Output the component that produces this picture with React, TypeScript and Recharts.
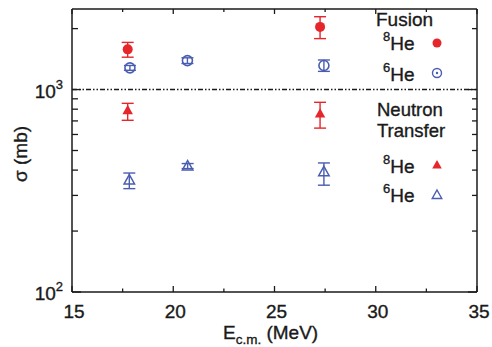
import React from 'react';
import {
  ScatterChart,
  Scatter,
  XAxis,
  YAxis,
  ErrorBar,
  ReferenceLine,
  Customized,
} from 'recharts';

// Cross sections (mb) versus centre-of-mass energy (MeV)
const fusion8HeEnergy = [17.75, 27.25];
const fusion8HeSigma = [1580, 2040];
const fusion8HeErr: [number, number][] = [[135, 130], [255, 250]];

const fusion6HeEnergy = [17.86, 20.7, 27.44];
const fusion6HeSigma = [1280, 1390, 1315];
const fusion6HeErr: [number, number][] = [[35, 35], [45, 45], [85, 85]];

const transfer8HeEnergy = [17.75, 27.25];
const transfer8HeSigma = [790, 760];
const transfer8HeErr: [number, number][] = [[85, 65], [115, 105]];

const transfer6HeEnergy = [17.83, 20.71, 27.44];
const transfer6HeSigma = [357, 419, 392];
const transfer6HeErr: [number, number][] = [[33, 30], [12, 12], [55, 42]];

const xTicks = [15, 17.5, 20, 22.5, 25, 27.5, 30, 32.5, 35];
const xMajorTicks = [15, 20, 25, 30, 35];
const yTicks = [100, 200, 300, 400, 500, 600, 700, 800, 900, 1000, 2000];
const yMajorTicks = [100, 1000];

const RED = '#e5262b';
const BLUE = '#4a5db0';
const INK = '#1a1a1a';
const FONT = '"Liberation Sans", Arial, Helvetica, sans-serif';
// a hair of outline makes the Helvetica-like lettering a little heavier
const TEXT_STYLE = { stroke: INK, strokeWidth: 0.35 } as const;

const build = (xs: number[], ys: number[], errs: [number, number][]) =>
  xs.map((x, i) => ({ x, y: ys[i], err: errs[i] }));

const fusion8He = build(fusion8HeEnergy, fusion8HeSigma, fusion8HeErr);
const fusion6He = build(fusion6HeEnergy, fusion6HeSigma, fusion6HeErr);
const transfer8He = build(transfer8HeEnergy, transfer8HeSigma, transfer8HeErr);
const transfer6He = build(transfer6HeEnergy, transfer6HeSigma, transfer6HeErr);

const triPath = (cx: number, cy: number, s: number) =>
  `M${cx},${cy - s} L${cx + s * 0.95},${cy + s * 0.7} L${cx - s * 0.95},${cy + s * 0.7} Z`;

const FilledDot = (p: any) => <circle cx={p.cx} cy={p.cy} r={5} fill={RED} />;
const OpenDot = (p: any) => (
  <circle cx={p.cx} cy={p.cy} r={5} fill="none" stroke={BLUE} strokeWidth={1.6} />
);
const FilledTri = (p: any) => <path d={triPath(p.cx, p.cy, 5.5)} fill={RED} />;
const OpenTri = (p: any) => (
  <path d={triPath(p.cx, p.cy, 5.5)} fill="none" stroke={BLUE} strokeWidth={1.5} />
);

const expOf = (v: number) => Math.round(Math.log10(v));

const LeftTick = (p: any) => {
  const { x, y, payload } = p;
  const major = yMajorTicks.includes(payload.value);
  return (
    <g>
      <line x1={x} x2={x + (major ? 9 : 6)} y1={y} y2={y} stroke={INK} strokeWidth={1.3} />
      {major && (
        <text x={x - 9} y={y + 8} textAnchor="end" fontFamily={FONT} fontSize={19} fill={INK} style={TEXT_STYLE}>
          10
          <tspan dy={-9} fontSize={13}>
            {expOf(payload.value)}
          </tspan>
        </text>
      )}
    </g>
  );
};

const RightTick = (p: any) => {
  const { x, y, payload } = p;
  const major = yMajorTicks.includes(payload.value);
  return <line x1={x} x2={x - (major ? 9 : 5)} y1={y} y2={y} stroke={INK} strokeWidth={1.3} />;
};

const BottomTick = (p: any) => {
  const { x, y, payload } = p;
  const major = xMajorTicks.includes(payload.value);
  return (
    <g>
      <line x1={x} x2={x} y1={y} y2={y - (major ? 6 : 3.5)} stroke={INK} strokeWidth={1.3} />
      {major && (
        <text x={x + 2} y={y + 26} textAnchor="middle" fontFamily={FONT} fontSize={19} fill={INK} style={TEXT_STYLE}>
          {payload.value}
        </text>
      )}
    </g>
  );
};

const TopTick = (p: any) => {
  const { x, y, payload } = p;
  const major = xMajorTicks.includes(payload.value);
  return <line x1={x} x2={x} y1={y} y2={y + (major ? 5 : 3)} stroke={INK} strokeWidth={1.3} />;
};

const Label = ({ x, y, text, sup, size = 19 }: { x: number; y: number; text: string; sup?: string; size?: number }) => (
  <text x={x} y={y} fontFamily={FONT} fontSize={size} fill={INK} style={TEXT_STYLE}>
    {sup && (
      <tspan fontSize={13} dy={-9}>
        {sup}
      </tspan>
    )}
    {sup ? <tspan dy={9}>{text}</tspan> : text}
  </text>
);

// Key on the right-hand side of the frame, plus the axis titles
const Annotations = () => (
  <g>
    <Label x={376} y={26} text="Fusion" />
    <Label x={383} y={50} sup="8" text="He" />
    <circle cx={437} cy={43} r={4.5} fill={RED} />
    <Label x={383} y={81} sup="6" text="He" />
    <circle cx={437} cy={73} r={4.5} fill="none" stroke={BLUE} strokeWidth={1.4} />
    <circle cx={437} cy={73} r={1.2} fill={BLUE} />

    <Label x={377} y={116} text="Neutron" size={18.5} />
    <Label x={377} y={137} text="Transfer" size={18.5} />
    <Label x={383} y={173} sup="8" text="He" />
    <path d={triPath(437, 165, 5)} fill={RED} />
    <Label x={383} y={202} sup="6" text="He" />
    <path d={triPath(437, 195, 5)} fill="none" stroke={BLUE} strokeWidth={1.4} />

    <text
      x={0}
      y={0}
      transform="translate(27,154) rotate(-90)"
      textAnchor="middle"
      fontFamily={FONT}
      fontSize={19}
      fill={INK}
      style={TEXT_STYLE}
    >
      σ (mb)
    </text>
    <text x={223} y={339} fontFamily={FONT} fontSize={19} fill={INK} style={TEXT_STYLE}>
      E
      <tspan fontSize={13.5} dy={5}>
        c.m.
      </tspan>
      <tspan dy={-5}> (MeV)</tspan>
    </text>
  </g>
);

export default function App() {
  return (
    <div style={{ position: 'absolute', left: 0, top: 0, width: 492, height: 347, background: '#fff' }}>
      <ScatterChart width={492} height={347} margin={{ top: 8, right: 14, bottom: 0, left: 0 }}>
        <XAxis
          xAxisId="bottom"
          dataKey="x"
          type="number"
          domain={[15, 35]}
          ticks={xTicks}
          interval={0}
          allowDataOverflow
          height={55}
          tickSize={0}
          tickMargin={0}
          tick={<BottomTick />}
          axisLine={{ stroke: INK, strokeWidth: 1.5 }}
          tickLine={false}
        />
        <XAxis
          xAxisId="top"
          orientation="top"
          dataKey="x"
          type="number"
          domain={[15, 35]}
          ticks={xTicks}
          interval={0}
          allowDataOverflow
          height={1}
          tickSize={0}
          tickMargin={0}
          tick={<TopTick />}
          axisLine={{ stroke: INK, strokeWidth: 1.5 }}
          tickLine={false}
        />
        <YAxis
          yAxisId="left"
          dataKey="y"
          type="number"
          scale="log"
          domain={[100, 2500]}
          ticks={yTicks}
          interval={0}
          allowDataOverflow
          width={72}
          tickSize={0}
          tickMargin={0}
          tick={<LeftTick />}
          axisLine={{ stroke: INK, strokeWidth: 1.5 }}
          tickLine={false}
        />
        <YAxis
          yAxisId="right"
          orientation="right"
          dataKey="y"
          type="number"
          scale="log"
          domain={[100, 2500]}
          ticks={yTicks}
          interval={0}
          allowDataOverflow
          width={1}
          tickSize={0}
          tickMargin={0}
          tick={<RightTick />}
          axisLine={{ stroke: INK, strokeWidth: 1.5 }}
          tickLine={false}
        />
        <ReferenceLine
          xAxisId="bottom"
          yAxisId="left"
          y={1000}
          stroke={INK}
          strokeWidth={1.4}
          strokeDasharray="5 2 1.5 2 1.5 2"
        />
        <Scatter xAxisId="bottom" yAxisId="left" data={fusion8He} shape={FilledDot} isAnimationActive={false}>
          <ErrorBar dataKey="err" direction="y" width={6} stroke={RED} strokeWidth={1.4} isAnimationActive={false} />
        </Scatter>
        <Scatter xAxisId="bottom" yAxisId="left" data={fusion6He} shape={OpenDot} isAnimationActive={false}>
          <ErrorBar dataKey="err" direction="y" width={6} stroke={BLUE} strokeWidth={1.4} isAnimationActive={false} />
        </Scatter>
        <Scatter xAxisId="bottom" yAxisId="left" data={transfer8He} shape={FilledTri} isAnimationActive={false}>
          <ErrorBar dataKey="err" direction="y" width={6} stroke={RED} strokeWidth={1.4} isAnimationActive={false} />
        </Scatter>
        <Scatter xAxisId="bottom" yAxisId="left" data={transfer6He} shape={OpenTri} isAnimationActive={false}>
          <ErrorBar dataKey="err" direction="y" width={6} stroke={BLUE} strokeWidth={1.4} isAnimationActive={false} />
        </Scatter>
        <Customized component={Annotations} />
      </ScatterChart>
    </div>
  );
}
